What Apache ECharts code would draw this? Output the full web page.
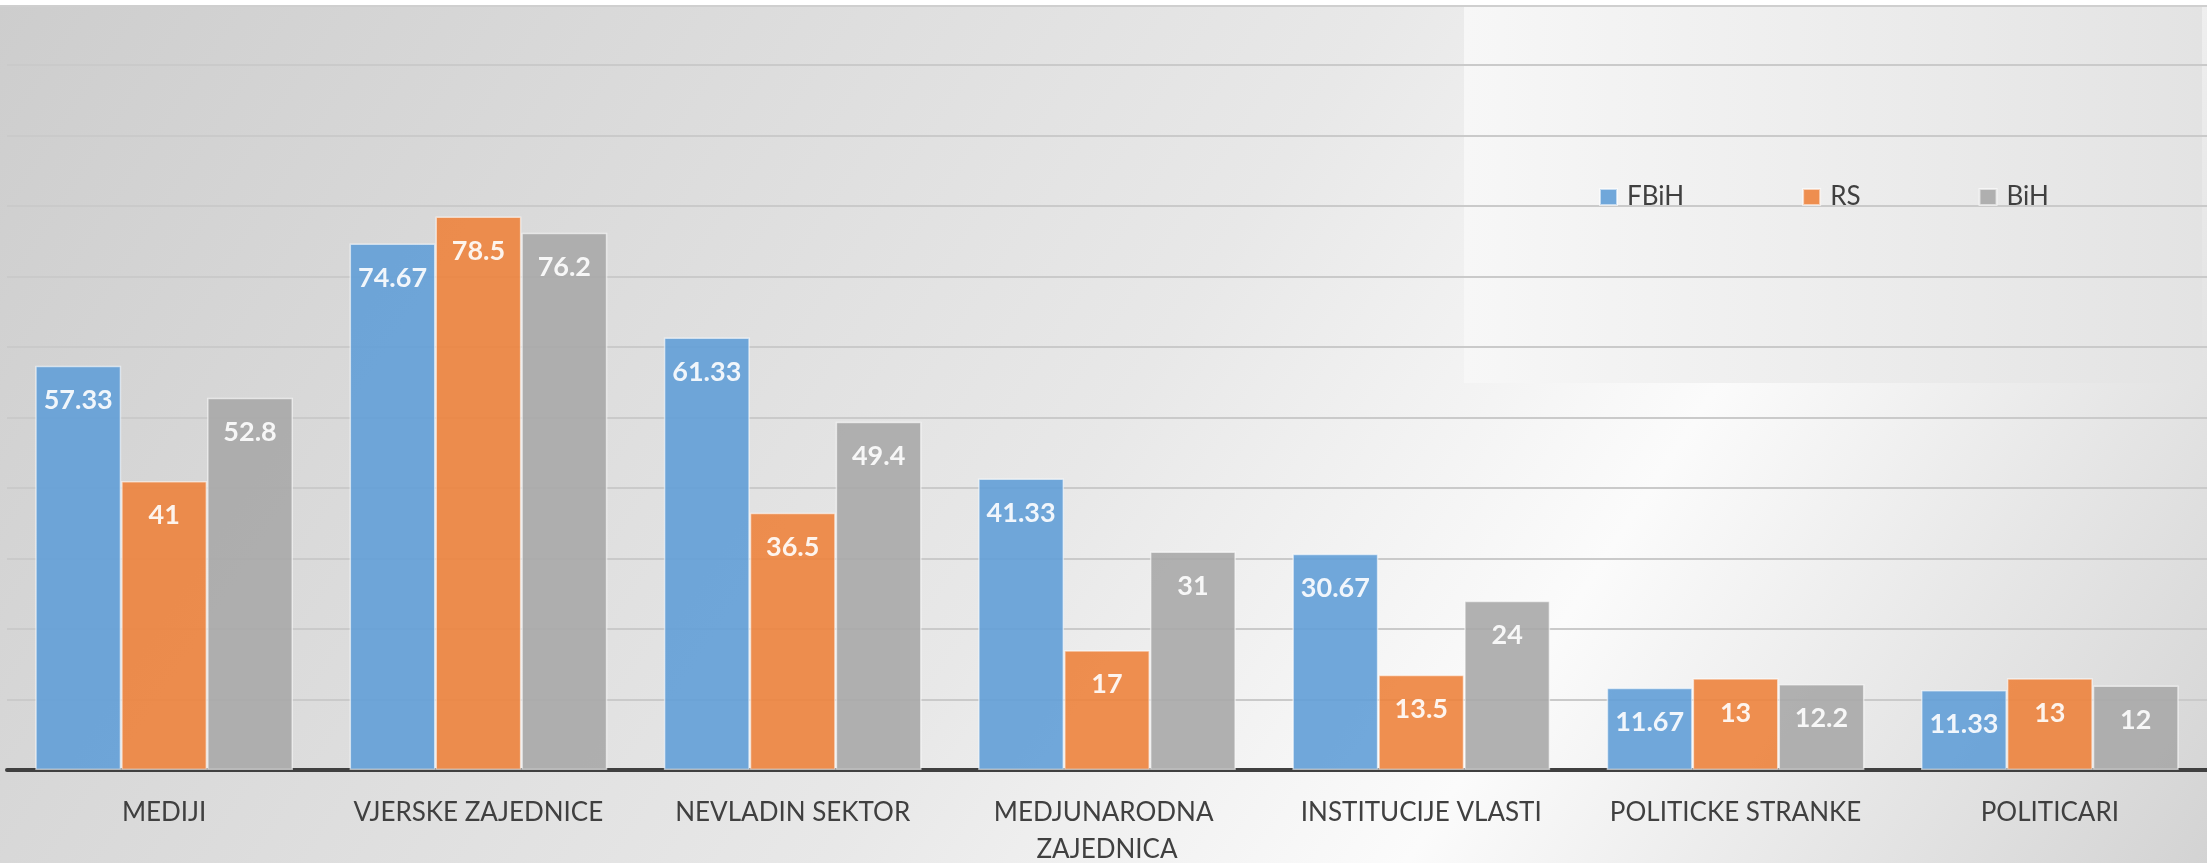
<!DOCTYPE html>
<html>
<head>
<meta charset="utf-8">
<script src="https://cdn.jsdelivr.net/npm/echarts@6/dist/echarts.min.js"></script>
<style>
  html, body { margin: 0; padding: 0; background: #fff; }
  #chart { width: 2207px; height: 863px; }
</style>
</head>
<body>
<div id="chart"></div>
<script>
// chart data
var categories = ['MEDIJI', 'VJERSKE ZAJEDNICE', 'NEVLADIN SEKTOR', 'MEDJUNARODNA ZAJEDNICA',
                  'INSTITUCIJE VLASTI', 'POLITICKE STRANKE', 'POLITICARI'];
var seriesNames = ['FBiH', 'RS', 'BiH'];
var fbihValues = [57.33, 74.67, 61.33, 41.33, 30.67, 11.67, 11.33];
var rsValues   = [41, 78.5, 36.5, 17, 13.5, 13, 13];
var bihValues  = [52.8, 76.2, 49.4, 31, 24, 12.2, 12];

var colors = ['#629FD7', '#ED833D', '#A8A8A8'];
var fontFamily = 'Lato, "Open Sans", sans-serif';

var chart = echarts.init(document.getElementById('chart'));

function barSeries(name, values, color) {
    return {
        name: name,
        type: 'bar',
        data: values,
        barGap: '0%',
        barCategoryGap: '18%',
        itemStyle: {
            color: color,
            opacity: 0.9,
            borderColor: 'rgba(255,255,255,0.65)',
            borderWidth: 1.5
        },
        label: {
            show: true,
            position: 'insideTop',
            distance: 21,
            color: '#fff',
            fontWeight: 'bold',
            fontSize: 27,
            fontFamily: fontFamily
        }
    };
}

chart.setOption({
    animation: false,
    color: colors,
    backgroundColor: {
        type: 'linear',
        global: true,
        x: 0, y: 0, x2: 1946, y2: 1269,
        colorStops: [
            { offset: 0,    color: '#cdcdcd' },
            { offset: 0.5,  color: '#e8e8e8' },
            { offset: 0.71, color: '#fbfbfb' },
            { offset: 0.86, color: '#e6e6e6' },
            { offset: 1,    color: '#d3d3d3' }
        ]
    },
    graphic: [
        {
            type: 'rect', z: -1,
            shape: { x: 0, y: 0, width: 2207, height: 6 },
            style: { fill: '#ffffff' }
        },
        {
            type: 'line', z: -1,
            shape: { x1: 0, y1: 6, x2: 2207, y2: 6 },
            style: { stroke: '#cfcfcf', lineWidth: 2 }
        },
        {
            // lighter legend box
            type: 'rect', z: -1,
            shape: { x: 1464, y: 7, width: 738, height: 376 },
            style: {
                fill: {
                    type: 'linear', x: 0, y: 0, x2: 1, y2: 0,
                    colorStops: [
                        { offset: 0, color: '#f7f7f7' },
                        { offset: 1, color: '#e3e3e3' }
                    ]
                }
            }
        }
    ],
    legend: {
        left: 1594,
        top: 179,
        itemWidth: 17,
        itemHeight: 16,
        itemGap: 118,
        icon: 'rect',
        data: seriesNames,
        textStyle: {
            color: '#404040', fontSize: 26, fontFamily: fontFamily,
            padding: [0, 0, 0, 5]
        }
    },
    grid: { left: 7, right: 0, top: 65, bottom: 93, outerBoundsMode: 'none' },
    xAxis: {
        type: 'category',
        data: categories,
        axisLine: { lineStyle: { color: '#404040', width: 4 } },
        axisTick: { show: false },
        axisLabel: {
            color: '#404040',
            fontSize: 26,
            fontFamily: fontFamily,
            margin: 24,
            width: 300,
            overflow: 'break',
            lineHeight: 37,
            interval: 0
        }
    },
    yAxis: {
        type: 'value',
        min: 0,
        max: 100,
        interval: 10,
        axisLabel: { show: false },
        axisLine: { show: false },
        axisTick: { show: false },
        splitLine: { lineStyle: { color: '#cacaca', width: 2 } }
    },
    series: [
        barSeries(seriesNames[0], fbihValues, colors[0]),
        barSeries(seriesNames[1], rsValues, colors[1]),
        barSeries(seriesNames[2], bihValues, colors[2])
    ]
});
</script>
</body>
</html>
